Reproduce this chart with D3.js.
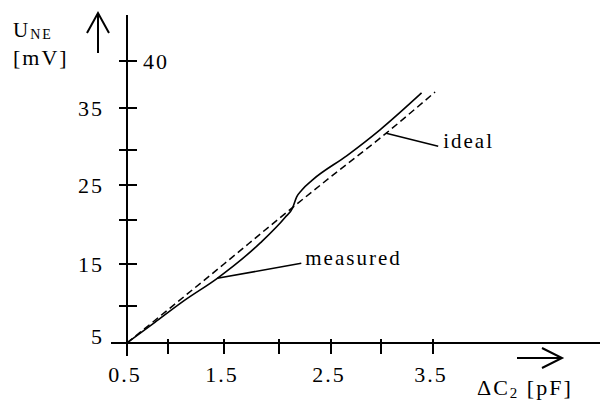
<!DOCTYPE html>
<html>
<head>
<meta charset="utf-8">
<script src="https://cdn.jsdelivr.net/npm/d3@7"></script>
<style>
	body { margin: 0; background: #fff; }
	text { font-family: "Liberation Serif", "Times New Roman", serif; fill: #000; letter-spacing: 2px; }
</style>
</head>
<body>
<div id="container"></div>
<script>
// 1. Data
const xTicks = [0.5, 1, 1.5, 2, 2.5, 3, 3.5]
const xLabels = [0.5, 1.5, 2.5, 3.5]
const yTicks = [5, 10, 15, 20, 25, 30, 35, 40]
const yLabelsLeft = [5, 15, 25, 35]
const yLabelsRight = [40]

const measuredX = [0.5, 0.84, 1.15, 1.44, 1.83, 2.06, 2.13, 2.17, 2.22, 2.32, 2.66, 2.99, 3.39]
const measuredY = [5, 7.8, 10.7, 13.3, 17.4, 20.4, 21.7, 23.3, 24.3, 25.7, 29.2, 32.4, 36.6]
const idealX = [0.5, 1, 1.5, 2, 2.5, 3, 3.52]
const idealY = [5, 9.5, 15.0, 20.2, 26.2, 31.5, 36.7]

// 2. Dimensions
const width = 600
const height = 401

// 3. Canvas
const svg = d3.select("#container")
	.append("svg")
	.attr("width", width)
	.attr("height", height)

// 4. Scales (hand drawn figure: ticks are not evenly spaced)
const x = d3.scaleLinear()
	.domain(xTicks)
	.range([127, 168, 224, 279, 331, 381, 433])

const y = d3.scaleLinear()
	.domain(yTicks)
	.range([343, 306, 264, 220, 185, 150, 108, 61])

// 5. Draw data
const line = d3.line()
	.x(d => x(d[0]))
	.y(d => y(d[1]))
	.curve(d3.curveMonotoneX)

svg.append("path")
	.datum(d3.zip(idealX, idealY))
	.attr("d", line)
	.attr("fill", "none")
	.attr("stroke", "#000")
	.attr("stroke-width", 1.5)
	.attr("stroke-dasharray", "7,4")

svg.append("path")
	.datum(d3.zip(measuredX, measuredY))
	.attr("d", line)
	.attr("fill", "none")
	.attr("stroke", "#000")
	.attr("stroke-width", 1.6)

// 6. Peripherals
const axisColor = "#000"

// y axis
svg.append("line")
	.attr("x1", x(0.5)).attr("x2", x(0.5))
	.attr("y1", 15).attr("y2", 356)
	.attr("stroke", axisColor).attr("stroke-width", 2)

svg.selectAll(".ytick")
	.data(yTicks.slice(1))
	.join("line")
	.attr("class", "ytick")
	.attr("x1", x(0.5) - 8).attr("x2", x(0.5) + 10)
	.attr("y1", d => y(d)).attr("y2", d => y(d))
	.attr("stroke", axisColor).attr("stroke-width", 2)

svg.selectAll(".ylabel")
	.data(yLabelsLeft)
	.join("text")
	.attr("class", "ylabel")
	.attr("x", 104)
	.attr("y", d => d === 5 ? y(d) + 1 : y(d) + 8)
	.attr("text-anchor", "end")
	.style("font-size", "22px")
	.text(d => d)

svg.selectAll(".ylabelR")
	.data(yLabelsRight)
	.join("text")
	.attr("class", "ylabelR")
	.attr("x", 143)
	.attr("y", d => y(d) + 8)
	.style("font-size", "22px")
	.text(d => d)

// x axis
svg.append("line")
	.attr("x1", 111).attr("x2", width)
	.attr("y1", y(5)).attr("y2", y(5))
	.attr("stroke", axisColor).attr("stroke-width", 2)

svg.selectAll(".xtick")
	.data(xTicks.slice(1))
	.join("line")
	.attr("class", "xtick")
	.attr("x1", d => x(d)).attr("x2", d => x(d))
	.attr("y1", y(5) - 4).attr("y2", y(5) + 11)
	.attr("stroke", axisColor).attr("stroke-width", 2)

svg.selectAll(".xlabel")
	.data(xLabels)
	.join("text")
	.attr("class", "xlabel")
	.attr("x", d => x(d) - 2)
	.attr("y", 382)
	.attr("text-anchor", "middle")
	.style("font-size", "22px")
	.text(d => d)

// arrows
svg.append("path")
	.attr("d", "M98,53 L98,14 M87,33 L98,13 L109,33")
	.attr("fill", "none").attr("stroke", "#000").attr("stroke-width", 2)

svg.append("path")
	.attr("d", "M517,358 L561,358 M542,348 L562,358 L542,368")
	.attr("fill", "none").attr("stroke", "#000").attr("stroke-width", 2)

// axis titles
const yTitle = svg.append("text")
	.attr("x", 13).attr("y", 37)
	.style("font-size", "21px")
yTitle.append("tspan").text("U")
yTitle.append("tspan").attr("dy", 2).style("font-size", "14px").text("NE")

svg.append("text")
	.attr("x", 13).attr("y", 65)
	.style("font-size", "22px")
	.text("[mV]")

const xTitle = svg.append("text")
	.attr("x", 477).attr("y", 395)
	.style("font-size", "22px")
xTitle.append("tspan").text("ΔC")
xTitle.append("tspan").attr("dy", 3).style("font-size", "15px").text("2")
xTitle.append("tspan").attr("dy", -3).text(" [pF]")

// annotations
const annotations = [
	{ label: "measured", at: [1.44, 13.3], dx: 84, dy: -15, tx: 4, ty: 2 },
	{ label: "ideal", at: [3.05, 32.0], dx: 52, dy: 13, tx: 5, ty: 2 },
]

svg.selectAll(".leader")
	.data(annotations)
	.join("line")
	.attr("class", "leader")
	.attr("x1", d => x(d.at[0])).attr("y1", d => y(d.at[1]))
	.attr("x2", d => x(d.at[0]) + d.dx).attr("y2", d => y(d.at[1]) + d.dy)
	.attr("stroke", "#000").attr("stroke-width", 1.6)

svg.selectAll(".annot")
	.data(annotations)
	.join("text")
	.attr("class", "annot")
	.attr("x", d => x(d.at[0]) + d.dx + d.tx)
	.attr("y", d => y(d.at[1]) + d.dy + d.ty)
	.style("font-size", "21px")
	.text(d => d.label)
</script>
</body>
</html>
